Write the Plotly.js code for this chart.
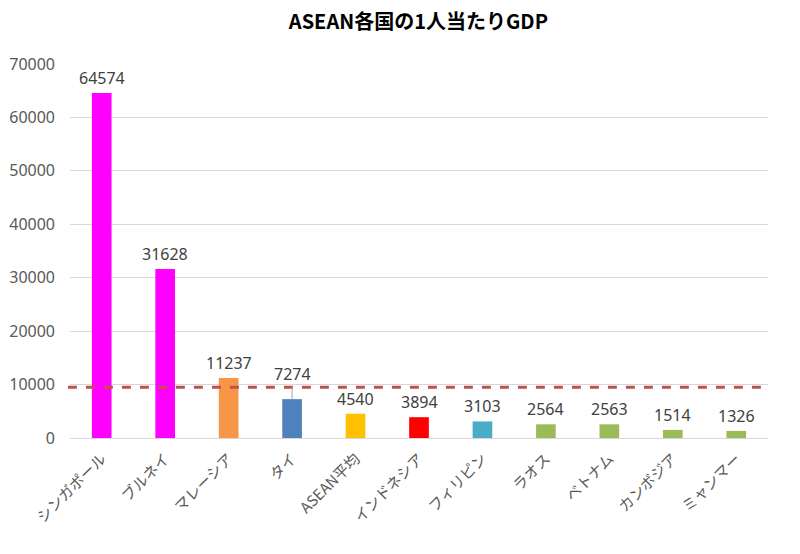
<!DOCTYPE html>
<html><head><meta charset="utf-8">
<script src="https://cdn.plot.ly/plotly-3.0.1.min.js"></script>
<style>body{margin:0;background:#fff}#c{width:800px;height:554px}</style>
</head><body><div id="c"></div>
<script>
const categories = ["シンガポール","ブルネイ","マレーシア","タイ","ASEAN平均","インドネシア","フィリピン","ラオス","ベトナム","カンボジア","ミャンマー"];
const values = [64574,31628,11237,7274,4540,3894,3103,2564,2563,1514,1326];
const barColors = ["#FF00FF","#FF00FF","#F79646","#4F81BD","#FFC000","#FF0000","#4BACC6","#9BBB59","#9BBB59","#9BBB59","#9BBB59"];
const referenceLine = 9500;
const yTicks = [0,10000,20000,30000,40000,50000,60000,70000];

const annotations = categories.map((c,i)=>{
  const a = {x:c, y:values[i], xref:'x', yref:'y', text:String(values[i]),
    showarrow:false, yanchor:'bottom', yshift:2,
    font:{family:'"Noto Sans", "DejaVu Sans", sans-serif', size:16, color:'#404040'}};
  if (c === "タイ") {
    a.showarrow = true; a.arrowhead = 0; a.arrowwidth = 1; a.arrowcolor = '#A6A6A6';
    a.ax = 0; a.ay = -12; a.yshift = 0; a.yanchor = 'bottom';
  }
  return a;
});

const data = [{
  type:'bar', x:categories, y:values, marker:{color:barColors}, hoverinfo:'x+y'
}];
const layout = {
  width:800, height:554,
  margin:{l:70, r:32, t:64, b:116},
  paper_bgcolor:'#fff', plot_bgcolor:'#fff',
  title:{text:'ASEAN各国の1人当たりGDP', x:0.523, xanchor:'center', y:0.96, yanchor:'middle',
    font:{family:'"Noto Sans CJK JP", sans-serif', size:20, color:'#000', weight:'bold'}},
  bargap:0.69,
  showlegend:false,
  xaxis:{tickangle:-45, showgrid:false, showline:false, ticks:'', ticklabelstandoff:8,
    tickfont:{family:'"Noto Sans CJK JP", sans-serif', size:15, color:'#595959'}},
  yaxis:{range:[0,70000], tickvals:yTicks, ticktext:yTicks.map(String), showgrid:true, gridcolor:'#D9D9D9',
    zeroline:true, zerolinecolor:'#D9D9D9', showline:false, ticks:'', ticklabelstandoff:14,
    tickfont:{family:'"Noto Sans", "DejaVu Sans", sans-serif', size:16, color:'#595959'}},
  shapes:[{type:'line', xref:'paper', x0:-0.003, x1:1, yref:'y', y0:referenceLine, y1:referenceLine,
    line:{color:'#C0504D', width:3, dash:'dash'}}],
  annotations:annotations
};
Plotly.newPlot('c', data, layout, {displayModeBar:false, staticPlot:true});
</script></body></html>
